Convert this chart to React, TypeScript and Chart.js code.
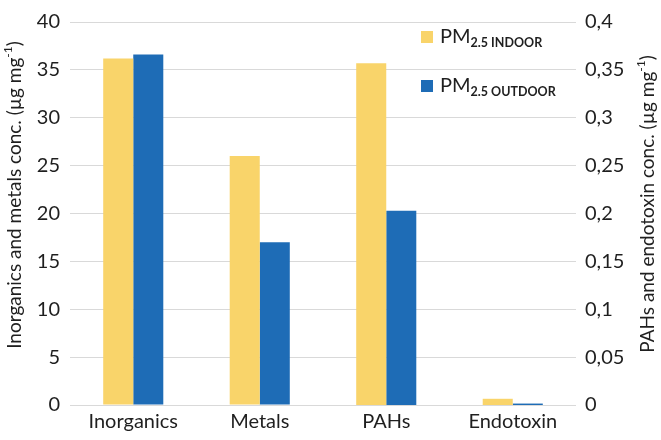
import React, { useEffect, useRef } from "react";
import { Chart, registerables } from "chart.js";
Chart.register(...registerables);

const categories = ["Inorganics", "Metals", "PAHs", "Endotoxin"];
// left axis (µg/mg): Inorganics, Metals
const indoorLeft = [36.2, 26.0, null, null];
const outdoorLeft = [36.6, 17.0, null, null];
// right axis (µg/mg): PAHs, Endotoxin
const indoorRight = [null, null, 0.357, 0.0065];
const outdoorRight = [null, null, 0.203, 0.0015];

const leftTitle = "Inorganics and metals conc. (µg mg";
const rightTitle = "PAHs and endotoxin conc. (µg mg";
const legendItems = ["INDOOR", "OUTDOOR"];

const YELLOW = "rgb(249,212,106)";
const BLUE = "rgb(30,108,182)";
const FONT = "Lato";
const TEXT = "#1f1f1f";

function drawRotTitle(ctx: CanvasRenderingContext2D, text: string, cx: number, cy: number) {
  ctx.save();
  ctx.translate(cx, cy);
  ctx.rotate(-Math.PI / 2);
  ctx.fillStyle = TEXT;
  ctx.textBaseline = "middle";
  ctx.textAlign = "left";
  const big = `19px ${FONT}`;
  const small = `12px ${FONT}`;
  ctx.font = big;
  const w1 = ctx.measureText(text).width;
  ctx.font = small;
  const w2 = ctx.measureText("-1").width;
  ctx.font = big;
  const w3 = ctx.measureText(")").width;
  const total = w1 + w2 + w3;
  let x = -total / 2;
  ctx.fillText(text, x, 0);
  x += w1;
  ctx.font = small;
  ctx.fillText("-1", x, -7);
  x += w2;
  ctx.font = big;
  ctx.fillText(")", x, 0);
  ctx.restore();
}

const extrasPlugin = {
  id: "extras",
  afterDraw(chart: any) {
    const ctx = chart.ctx as CanvasRenderingContext2D;
    drawRotTitle(ctx, leftTitle, 15, 195);
    drawRotTitle(ctx, rightTitle, 648, 204);
    const colors = [YELLOW, BLUE];
    const ys = [43, 92];
    legendItems.forEach((lab, i) => {
      const base = ys[i];
      ctx.save();
      ctx.fillStyle = colors[i];
      ctx.fillRect(421, base - 12, 12, 12);
      ctx.fillStyle = TEXT;
      ctx.textBaseline = "alphabetic";
      ctx.textAlign = "left";
      ctx.font = `20px ${FONT}`;
      ctx.fillText("PM", 440, base);
      const w = ctx.measureText("PM").width;
      ctx.font = `bold 12.5px ${FONT}`;
      ctx.fillText("2.5 " + lab, 440 + w, base + 4);
      ctx.restore();
    });
  },
};

export default function App() {
  const ref = useRef<HTMLCanvasElement>(null);
  useEffect(() => {
    const fmt = (v: any) => String(Math.round(Number(v) * 100) / 100).replace(".", ",");
    const chart = new Chart(ref.current!, {
      type: "bar",
      data: {
        labels: categories,
        datasets: [
          { label: "in-L", data: indoorLeft as any, backgroundColor: YELLOW, yAxisID: "y", skipNull: true } as any,
          { label: "out-L", data: outdoorLeft as any, backgroundColor: BLUE, yAxisID: "y", skipNull: true } as any,
          { label: "in-R", data: indoorRight as any, backgroundColor: YELLOW, yAxisID: "y1", skipNull: true } as any,
          { label: "out-R", data: outdoorRight as any, backgroundColor: BLUE, yAxisID: "y1", skipNull: true } as any,
        ],
      },
      options: {
        responsive: false,
        animation: false,
        layout: { padding: { top: 12, left: 0, right: 0, bottom: 0 } },
        datasets: { bar: { categoryPercentage: 0.475, barPercentage: 1 } } as any,
        plugins: { legend: { display: false }, tooltip: { enabled: false } },
        scales: {
          x: {
            grid: { display: false, drawTicks: false },
            border: { display: false },
            ticks: { color: TEXT, font: { family: FONT, size: 20 }, padding: 5 },
            afterFit: (s: any) => { s.height = 35; },
          },
          y: {
            position: "left",
            min: 0,
            max: 40,
            ticks: { stepSize: 5, color: TEXT, font: { family: FONT, size: 20 }, padding: 10 },
            grid: { color: "#d9d9d9", drawTicks: false },
            border: { display: false },
            afterFit: (s: any) => { s.width = 70; },
          },
          y1: {
            position: "right",
            min: 0,
            max: 0.4,
            ticks: { stepSize: 0.05, color: TEXT, font: { family: FONT, size: 20 }, padding: 9, callback: fmt },
            grid: { display: false, drawTicks: false },
            border: { display: false },
            afterFit: (s: any) => { s.width = 85; },
          },
        },
      },
      plugins: [extrasPlugin],
    });
    return () => chart.destroy();
  }, []);
  return (
    <div style={{ position: "fixed", left: 0, top: 0, width: 661, height: 440, background: "#fff" }}>
      <canvas ref={ref} width={661} height={440} />
    </div>
  );
}
